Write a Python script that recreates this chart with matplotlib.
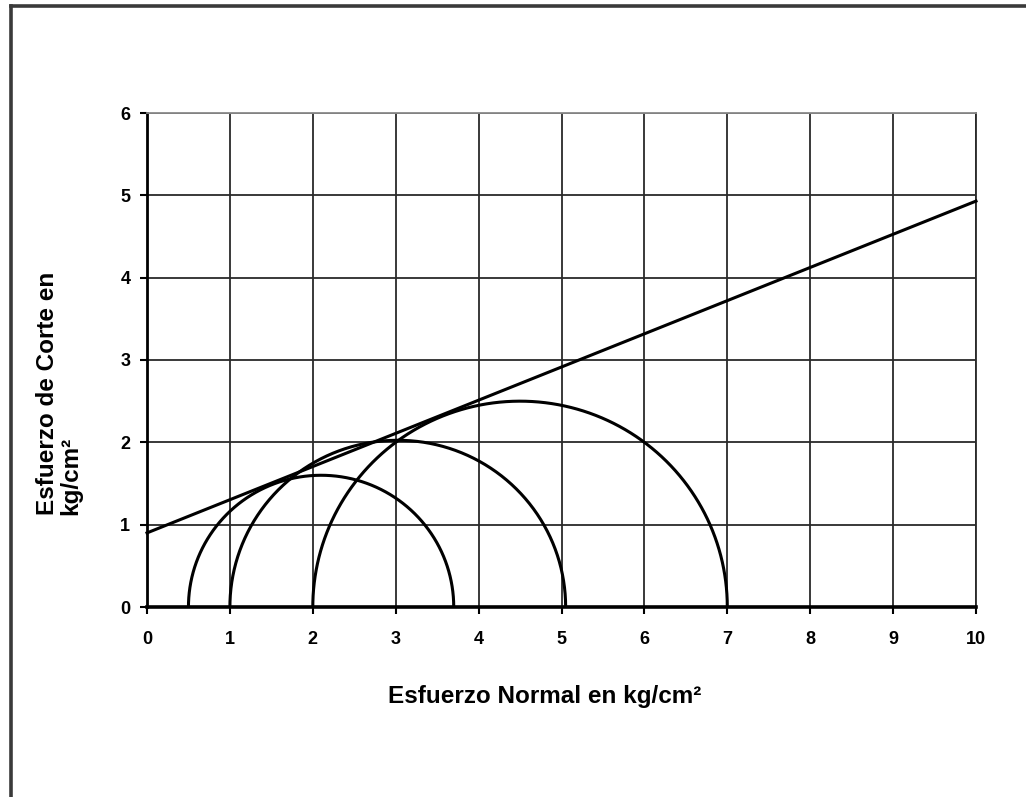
import numpy as np
import matplotlib
matplotlib.use("Agg")
import matplotlib.pyplot as plt
from matplotlib.lines import Line2D

plt.rcParams['font.family'] = ['Liberation Sans', 'DejaVu Sans']

# Mohr circles: minor and major principal stresses (kg/cm²)
sigma3 = [0.5, 1.0, 2.0]
sigma1 = [3.7, 5.05, 7.0]

# Failure envelope: cohesion and slope
cohesion = 0.9
slope = 0.403

x_ticks = [0, 1, 2, 3, 4, 5, 6, 7, 8, 9, 10]
y_ticks = [0, 1, 2, 3, 4, 5, 6]

W, H = 1026, 797
fig = plt.figure(figsize=(W / 100, H / 100), dpi=100)
ax = fig.add_axes([147 / W, 1 - 607 / H, (976 - 147) / W, (607 - 113) / H])

# frame around the whole figure (left and top edges)
fig.add_artist(Line2D([11 / W, 11 / W], [0, 1 - 6 / H], color='#3a3a3a', lw=2.6,
                      transform=fig.transFigure))
fig.add_artist(Line2D([11 / W, 1], [1 - 6 / H, 1 - 6 / H], color='#3a3a3a', lw=2.6,
                      transform=fig.transFigure))

ax.set_xlim(0, 10)
ax.set_ylim(0, 6)
ax.set_xticks(x_ticks)
ax.set_yticks(y_ticks)
ax.grid(True, color='#2a2a2a', lw=1.3)
ax.set_axisbelow(True)

for s3, s1 in zip(sigma3, sigma1):
    c = (s1 + s3) / 2
    r = (s1 - s3) / 2
    t = np.linspace(0, np.pi, 400)
    ax.plot(c + r * np.cos(t), r * np.sin(t), color='black', lw=2.2, zorder=3)

xs = np.array([0, 10])
ax.plot(xs, cohesion + slope * xs, color='black', lw=2.2, zorder=3, clip_on=False)

ax.spines['bottom'].set_linewidth(2.6)
ax.spines['left'].set_linewidth(2.0)
ax.spines['right'].set_linewidth(1.3)
ax.spines['right'].set_color('#2a2a2a')
ax.spines['top'].set_linewidth(1.3)
ax.spines['top'].set_color('#8a8a8a')

ax.tick_params(axis='both', length=5, width=1.5, color='black', labelsize=13)
ax.tick_params(axis='x', pad=12)
ax.tick_params(axis='y', pad=7)
for lab in ax.get_xticklabels() + ax.get_yticklabels():
    lab.set_fontweight('bold')

fig.text(545 / W, 1 - 697 / H, 'Esfuerzo Normal en kg/cm²', fontsize=17.5,
         fontweight='bold', ha='center', va='center')
fig.text(59 / W, 1 - 515 / H, 'Esfuerzo de Corte en\nkg/cm²', fontsize=17.5,
         fontweight='bold', ha='center', va='bottom', rotation=90,
         multialignment='left', linespacing=1.0)

fig.savefig('out.png', dpi=100, facecolor='white')
